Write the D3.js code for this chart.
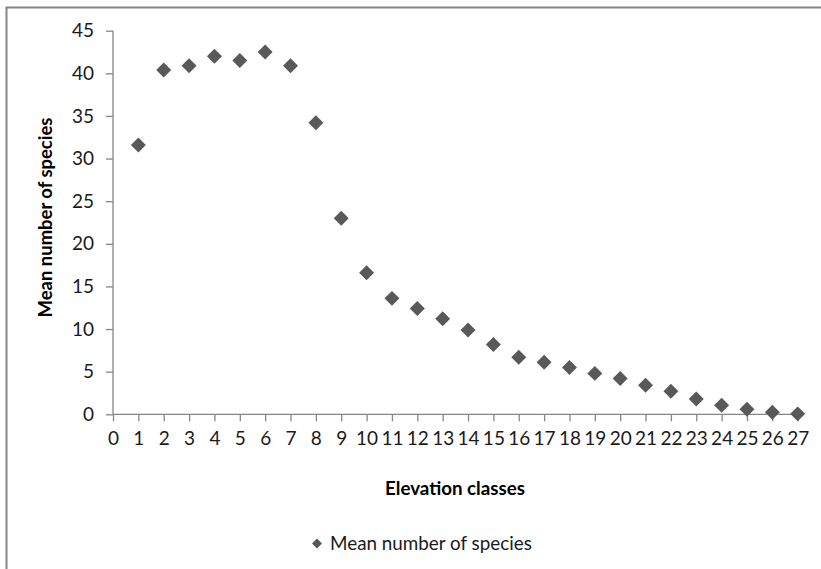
<!DOCTYPE html>
<html>
<head>
<meta charset="utf-8">
<script src="https://cdn.jsdelivr.net/npm/d3@7/dist/d3.min.js"></script>
<style>
  html, body { margin: 0; padding: 0; background: #fff; }
  svg { display: block; font-family: Lato, "Open Sans", sans-serif; }
</style>
</head>
<body>
<svg id="chart" width="821" height="569"></svg>
<script>
// Elevation classes and the mean species count recorded in each
const elevationClasses = [1, 2, 3, 4, 5, 6, 7, 8, 9, 10, 11, 12, 13, 14, 15, 16, 17, 18, 19, 20, 21, 22, 23, 24, 25, 26, 27];
const meanSpecies = [31.6, 40.4, 40.9, 42.0, 41.5, 42.5, 40.9, 34.2, 23.0, 16.6, 13.6, 12.4, 11.2, 9.9, 8.2, 6.7, 6.1, 5.5, 4.8, 4.2, 3.4, 2.7, 1.8, 1.05, 0.6, 0.25, 0.05];
const xTicks = d3.range(0, 28);
const yTicks = [0, 5, 10, 15, 20, 25, 30, 35, 40, 45];
const seriesName = "Mean number of species";
const xTitle = "Elevation classes";
const yTitle = "Mean number of species";

const svg = d3.select("#chart");
const axisColor = "#868686";
const markColor = "#595959";
const textColor = "#1a1a1a";

// Scale a text element's font size so that it spans the given width
function fitWidth(sel, width) {
  const node = sel.node();
  const fs = parseFloat(sel.style("font-size"));
  const w = node.getComputedTextLength();
  sel.style("font-size", (fs * width / w).toFixed(2) + "px");
  return sel;
}

// Outer chart frame
svg.append("rect")
  .attr("x", 6.5).attr("y", 7.5)
  .attr("width", 900).attr("height", 700)
  .attr("fill", "none")
  .attr("stroke", axisColor)
  .attr("stroke-width", 2);

const x = d3.scaleLinear().domain([0, 27]).range([113, 797.7]);
const y = d3.scaleLinear().domain([0, 45]).range([414.3, 30.7]);

// Y axis
const yAxis = svg.append("g")
  .attr("transform", `translate(${x(0)},0)`)
  .call(d3.axisLeft(y).tickValues(yTicks).tickSize(7).tickPadding(12).tickFormat(d3.format("d")));
// X axis
const xAxis = svg.append("g")
  .attr("transform", `translate(0,${y(0)})`)
  .call(d3.axisBottom(x).tickValues(xTicks).tickSize(7).tickPadding(10).tickFormat(d3.format("d")));

[yAxis, xAxis].forEach(g => {
  g.select(".domain").attr("stroke", axisColor).attr("stroke-width", 1.3);
  g.selectAll(".tick line").attr("stroke", axisColor).attr("stroke-width", 1.3);
  g.selectAll(".tick text")
    .attr("fill", textColor)
    .style("font-size", "19px")
    .style("font-family", "Lato, sans-serif");
});
yAxis.select(".domain").attr("d", `M0,${y(45)}V${y(0)}`);
xAxis.select(".domain").attr("d", `M${x(0)},0H${x(27)}`);

// Diamond markers (rotated squares)
const diamond = d3.symbol().type(d3.symbolSquare).size(112);

svg.append("g")
  .selectAll("path")
  .data(elevationClasses.map((c, i) => ({ c, v: meanSpecies[i] })))
  .join("path")
  .attr("d", diamond)
  .attr("transform", d => `translate(${x(d.c)},${y(d.v)}) rotate(45)`)
  .attr("fill", markColor);

// Axis titles
const xt = svg.append("text")
  .attr("x", 455).attr("y", 495)
  .attr("text-anchor", "middle")
  .style("font-size", "16px")
  .style("font-weight", "bold")
  .attr("fill", "#000")
  .text(xTitle);
fitWidth(xt, 140);

const yt = svg.append("text")
  .attr("transform", "translate(52,217.5) rotate(-90)")
  .attr("text-anchor", "middle")
  .style("font-size", "16px")
  .style("font-weight", "bold")
  .attr("fill", "#000")
  .text(yTitle);
fitWidth(yt, 200);

// Legend
const legend = svg.append("g").attr("transform", "translate(317,543.5)");
legend.append("path")
  .attr("d", d3.symbol().type(d3.symbolSquare).size(50))
  .attr("transform", "rotate(45)")
  .attr("fill", markColor);
const lt = legend.append("text")
  .attr("x", 13).attr("y", 6.5)
  .style("font-size", "17px")
  .attr("fill", textColor)
  .text(seriesName);
fitWidth(lt, 202);
</script>
</body>
</html>
